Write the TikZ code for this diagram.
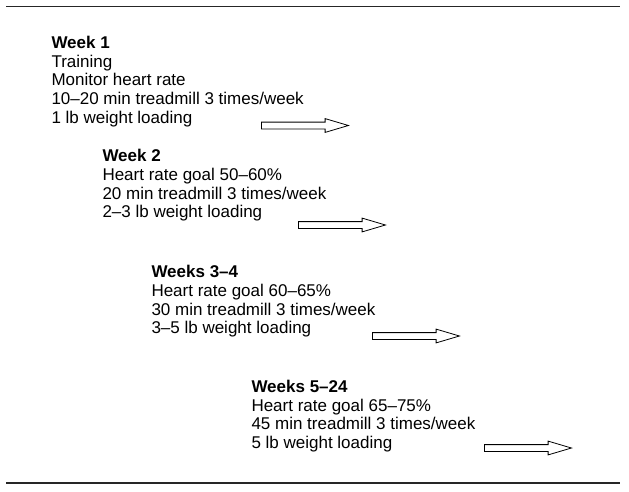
\documentclass[tikz,border=0pt]{standalone}
\usepackage{fontspec}
\setmainfont{Liberation Sans}
\usetikzlibrary{shapes.arrows}

\begin{document}
\begin{tikzpicture}[x=1pt,y=-1pt,
 every node/.style={font=\fontsize{17}{18.7}\selectfont},
 stage/.style={anchor=north west,align=left,inner sep=0pt},
 rule/.style={line width=1.2pt,black!85},
 fatarrow/.style={single arrow,draw,line width=.8pt,anchor=tail,
   minimum height=87pt,inner xsep=0pt,inner ysep=3pt,
   text height=0pt,text depth=0pt,
   single arrow head extend=3.5pt,single arrow tip angle=33}]
 \path[use as bounding box] (0,0) rectangle (629,491);
 % rules above and below the schedule
 \draw[rule] (6,6.7)--(620,6.7);
 \draw[rule] (6,483)--(620,483);
 \node[stage] (wk1) at (51.3,35.9)
   {\textbf{Week 1}\\Training\\Monitor heart rate\\10–20 min treadmill 3 times/week\\1 lb weight loading};
 \node[stage] (wk2) at (102.3,149.3)
   {\textbf{Week 2}\\Heart rate goal 50–60\%\\20 min treadmill 3 times/week\\2–3 lb weight loading};
 \node[stage] (wk34) at (151.3,265.3)
   {\textbf{Weeks 3–4}\\Heart rate goal 60–65\%\\30 min treadmill 3 times/week\\3–5 lb weight loading};
 \node[stage] (wk524) at (251.3,379.9)
   {\textbf{Weeks 5–24}\\Heart rate goal 65–75\%\\45 min treadmill 3 times/week\\5 lb weight loading};
 % progression arrows
 \node[fatarrow] (ar1) at (261,125.5) {};
 \node[fatarrow] (ar2) at (298,225) {};
 \node[fatarrow] (ar3) at (372,336) {};
 \node[fatarrow] (ar4) at (484,448) {};
\end{tikzpicture}
\end{document}
